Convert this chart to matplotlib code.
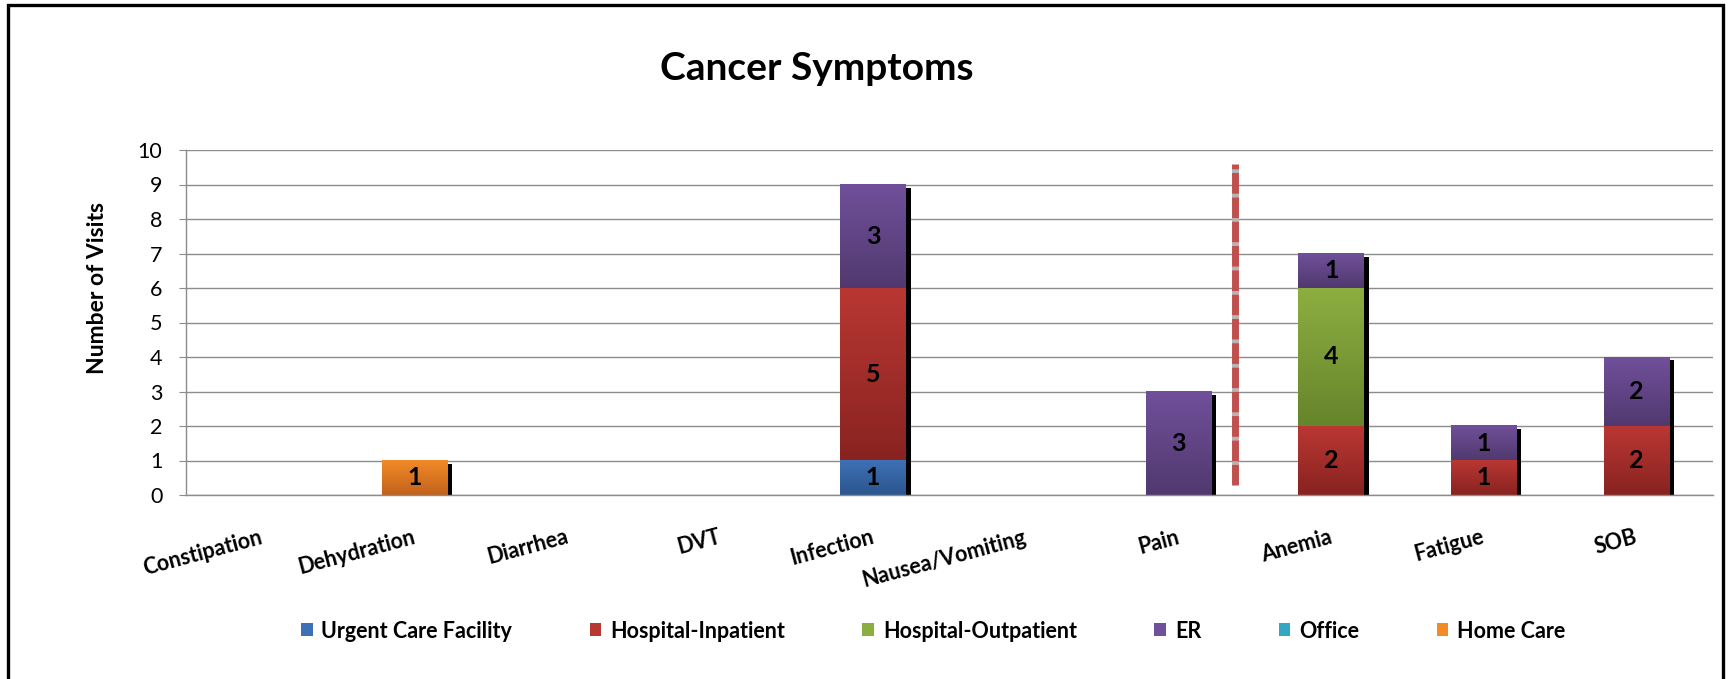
import numpy as np
import matplotlib

matplotlib.use("Agg")
import matplotlib.pyplot as plt  # noqa: E402
from matplotlib.colors import LinearSegmentedColormap  # noqa: E402
from matplotlib.patches import Patch, Rectangle  # noqa: E402

plt.rcParams["font.family"] = ["Lato", "DejaVu Sans"]

categories = ["Constipation", "Dehydration", "Diarrhea", "DVT", "Infection",
              "Nausea/Vomiting", "Pain", "Anemia", "Fatigue", "SOB"]
urgent_care = [0, 0, 0, 0, 1, 0, 0, 0, 0, 0]
hosp_inpatient = [0, 0, 0, 0, 5, 0, 0, 2, 1, 2]
hosp_outpatient = [0, 0, 0, 0, 0, 0, 0, 4, 0, 0]
er_visits = [0, 0, 0, 0, 3, 0, 3, 1, 1, 2]
office = [0, 0, 0, 0, 0, 0, 0, 0, 0, 0]
home_care = [0, 1, 0, 0, 0, 0, 0, 0, 0, 0]
series_names = ["Urgent Care Facility", "Hospital-Inpatient", "Hospital-Outpatient",
                "ER", "Office", "Home Care"]
y_ticks = list(range(0, 11))
divider_x = 6.37          # dashed separator between Pain and Anemia
divider_span = (0.3, 9.6)

# (top, bottom) of the vertical gradient of each series
SERIES_COLORS = [
    ("#3D70B5", "#2B578F"),
    ("#B93733", "#882320"),
    ("#8CAE40", "#66852C"),
    ("#70509A", "#51396F"),
    ("#33A8C3", "#247E93"),
    ("#F28A28", "#C2621B"),
]
GRID = "#8C8C8C"
BAR_W = 0.43
SHADOW_W = 0.03


def gradient_fill(ax, patch, top, bottom):
    x0, y0 = patch.get_x(), patch.get_y()
    w, h = patch.get_width(), patch.get_height()
    cm = LinearSegmentedColormap.from_list("g", [bottom, top])
    grad = np.linspace(0, 1, 64).reshape(-1, 1)
    ax.imshow(grad, cmap=cm, origin="lower", extent=(x0, x0 + w, y0, y0 + h),
              aspect="auto", interpolation="bilinear", zorder=2)


def main() -> None:
    series = [urgent_care, hosp_inpatient, hosp_outpatient, er_visits, office, home_care]
    x = np.arange(len(categories))

    fig = plt.figure(figsize=(17.29, 6.79), dpi=100)
    ax = fig.add_axes([186 / 1729, 1 - 495 / 679, (1713 - 186) / 1729, (495 - 150) / 679])

    bottom = np.zeros(len(categories))
    for vals, (top_c, bot_c) in zip(series, SERIES_COLORS):
        vals = np.asarray(vals, dtype=float)
        bars = ax.bar(x, vals, BAR_W, bottom=bottom, color="none", lw=0, zorder=2)
        for p, v in zip(bars, vals):
            if v > 0:
                gradient_fill(ax, p, top_c, bot_c)
        ax.bar_label(bars, labels=[f"{v:g}" if v > 0 else "" for v in vals],
                     label_type="center", fontsize=18, fontweight="bold", zorder=4)
        bottom += vals

    # black shadow at the right of every stack
    has = bottom > 0
    ax.bar(x[has] + BAR_W / 2 + SHADOW_W / 2, bottom[has] - 0.09, SHADOW_W,
           color="black", lw=0, zorder=1.9)

    ax.plot([divider_x, divider_x], divider_span, color="#C0504D", lw=5,
            linestyle=(0, (3.0, 0.5)), gapcolor="#B5B5B5", zorder=3,
            solid_capstyle="butt", dash_capstyle="butt")

    ax.set_xlim(-0.5, len(categories) - 0.5)
    ax.set_ylim(0, 10)
    ax.set_yticks(y_ticks)
    ax.set_xticks(x)
    ax.set_xticklabels(categories, rotation=15, ha="right", va="center",
                       rotation_mode="anchor", fontsize=15.5, fontweight="bold")
    for lab in ax.get_yticklabels():
        lab.set_fontsize(15.5)
    ax.tick_params(axis="x", length=0, pad=30)
    ax.tick_params(axis="y", length=5, color=GRID, pad=12)
    ax.grid(axis="y", color=GRID, lw=1.0)
    ax.set_axisbelow(True)
    for s in ("top", "right"):
        ax.spines[s].set_visible(False)
    for s in ("left", "bottom"):
        ax.spines[s].set_color(GRID)
        ax.spines[s].set_linewidth(1.0)

    fig.text(817 / 1729, 1 - 69 / 679, "Cancer Symptoms", ha="center", va="center",
             fontsize=28, fontweight="bold")
    fig.text(97 / 1729, 1 - 288 / 679, "Number of Visits", ha="center", va="center",
             rotation=90, fontsize=16.5, fontweight="bold")

    handles = [Patch(facecolor=c[0], edgecolor="none") for c in SERIES_COLORS]
    fig.legend(handles, series_names, ncol=6, loc="center",
               bbox_to_anchor=(933 / 1729, 1 - 631 / 679), frameon=False,
               prop={"size": 15.5, "weight": "bold"}, handlelength=0.55,
               handleheight=0.55, handletextpad=0.4, columnspacing=3.6)

    fig.patches.append(Rectangle((8 / 1729, -0.1), (1723 - 8) / 1729, 1.1 - 5 / 679,
                                 transform=fig.transFigure, fill=False, ec="black",
                                 lw=2.4, zorder=10))

    fig.savefig("out.png", dpi=100)
    plt.close(fig)


if __name__ == "__main__":
    main()
